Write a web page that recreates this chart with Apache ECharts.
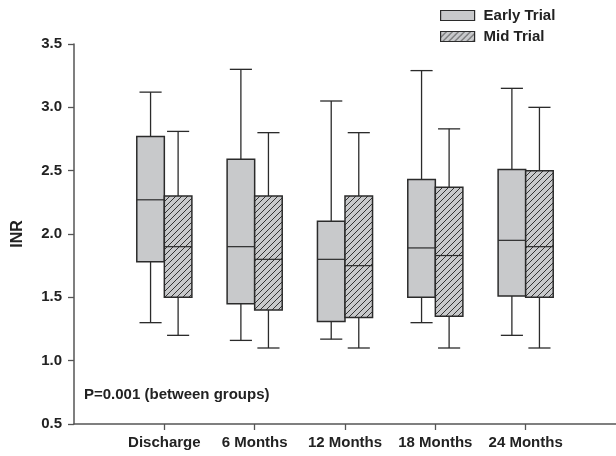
<!DOCTYPE html>
<html>
<head>
<meta charset="utf-8">
<script src="https://cdn.jsdelivr.net/npm/echarts@6/dist/echarts.min.js"></script>
<style>
html,body{margin:0;padding:0;background:#fff;}
#chart{width:616px;height:456px;}
</style>
</head>
<body>
<div id="chart"></div>
<script>
// ---- Data ----
const categories = ['Discharge', '6 Months', '12 Months', '18 Months', '24 Months'];
// [min, Q1, median, Q3, max]
const earlyTrial = [
  [1.30, 1.78, 2.27, 2.77, 3.12],
  [1.16, 1.45, 1.90, 2.59, 3.30],
  [1.17, 1.31, 1.80, 2.10, 3.05],
  [1.30, 1.50, 1.89, 2.43, 3.29],
  [1.20, 1.51, 1.95, 2.51, 3.15]
];
const midTrial = [
  [1.20, 1.50, 1.90, 2.30, 2.81],
  [1.10, 1.40, 1.80, 2.30, 2.80],
  [1.10, 1.34, 1.75, 2.30, 2.80],
  [1.10, 1.35, 1.83, 2.37, 2.83],
  [1.10, 1.50, 1.90, 2.50, 3.00]
];
const seriesNames = ['Early Trial', 'Mid Trial'];
const yMin = 0.5, yMax = 3.5, yStep = 0.5;
const annotation = 'P=0.001 (between groups)';

// ---- Styles ----
const GRAY = '#c8c9cb';
const DARK = '#2b2b2b';
const AXIS = '#555555';
const BOX_W = 0.305;   // box width in x units
const CAP_W = 0.245;   // whisker cap width in x units
const FONT = 'Liberation Sans, Arial, sans-serif';

function hatch() {
  const s = 6;
  const cv = document.createElement('canvas');
  cv.width = s; cv.height = s;
  const ctx = cv.getContext('2d');
  ctx.fillStyle = GRAY;
  ctx.fillRect(0, 0, s, s);
  ctx.strokeStyle = '#333';
  ctx.lineWidth = 1;
  ctx.beginPath();
  ctx.moveTo(-1, s + 1); ctx.lineTo(s + 1, -1);
  ctx.moveTo(-1, 1); ctx.lineTo(1, -1);
  ctx.moveTo(s - 1, s + 1); ctx.lineTo(s + 1, s - 1);
  ctx.stroke();
  return { image: cv, repeat: 'repeat' };
}
const HATCH = hatch();

function makeRender(side, fill) {
  return function (params, api) {
    const c = api.value(0);
    const mn = api.value(1), q1 = api.value(2), md = api.value(3), q3 = api.value(4), mx = api.value(5);
    const x0 = c + side * BOX_W, x1 = x0 + BOX_W, xm = (x0 + x1) / 2;
    const pTL = api.coord([x0, q3]);
    const pBR = api.coord([x1, q1]);
    const pMax = api.coord([xm, mx]);
    const pMin = api.coord([xm, mn]);
    const pMed = api.coord([x0, md]);
    const pMedR = api.coord([x1, md]);
    const capL = api.coord([xm - CAP_W / 2, mx])[0];
    const capR = api.coord([xm + CAP_W / 2, mx])[0];
    const ls = { stroke: DARK, lineWidth: 1.3 };
    return {
      type: 'group',
      children: [
        { type: 'line', shape: { x1: pMax[0], y1: pMax[1], x2: pMax[0], y2: pTL[1] }, style: ls },
        { type: 'line', shape: { x1: pMin[0], y1: pMin[1], x2: pMin[0], y2: pBR[1] }, style: ls },
        { type: 'line', shape: { x1: capL, y1: pMax[1], x2: capR, y2: pMax[1] }, style: ls },
        { type: 'line', shape: { x1: capL, y1: pMin[1], x2: capR, y2: pMin[1] }, style: ls },
        { type: 'rect', shape: { x: pTL[0], y: pTL[1], width: pBR[0] - pTL[0], height: pBR[1] - pTL[1] },
          style: { fill: fill, stroke: DARK, lineWidth: 1.5 } },
        { type: 'line', shape: { x1: pMed[0], y1: pMed[1], x2: pMedR[0], y2: pMed[1] }, style: { stroke: DARK, lineWidth: 1.2 } }
      ]
    };
  };
}

const earlyData = earlyTrial.map((d, i) => [i + 1].concat(d));
const midData = midTrial.map((d, i) => [i + 1].concat(d));

const chart = echarts.init(document.getElementById('chart'), null, { renderer: 'canvas' });
chart.setOption({
  animation: false,
  backgroundColor: '#fff',
  grid: { left: 74, right: 0, top: 44, bottom: 32, containLabel: false },
  legend: {
    orient: 'vertical',
    left: 440, top: 8, padding: 0,
    itemWidth: 34, itemHeight: 10, itemGap: 6,
    icon: 'rect',
    textStyle: { fontFamily: FONT, fontWeight: 'bold', fontSize: 15, color: '#222', padding: [0, 0, 0, 4] },
    data: [
      { name: seriesNames[0], itemStyle: { color: GRAY, borderColor: DARK, borderWidth: 1.2 } },
      { name: seriesNames[1], itemStyle: { color: HATCH, borderColor: DARK, borderWidth: 1.2 } }
    ]
  },
  xAxis: {
    type: 'value', min: 0, max: 6, interval: 1,
    splitLine: { show: false },
    axisLine: { lineStyle: { color: AXIS, width: 1.5 } },
    axisTick: { length: 6, lineStyle: { color: AXIS, width: 1.3 }, customValues: [1, 2, 3, 4, 5] },
    axisLabel: {
      customValues: [1, 2, 3, 4, 5],
      margin: 11,
      fontFamily: FONT, fontWeight: 'bold', fontSize: 15, color: '#222',
      formatter: v => categories[Math.round(v) - 1] || ''
    }
  },
  yAxis: {
    type: 'value', min: yMin, max: yMax, interval: yStep,
    name: 'INR', nameLocation: 'middle', nameGap: 48, nameRotate: 90,
    nameTextStyle: { fontFamily: FONT, fontWeight: 'bold', fontSize: 16, color: '#222' },
    splitLine: { show: false },
    axisLine: { show: true, lineStyle: { color: AXIS, width: 1.5 } },
    axisTick: { show: true, length: 6, lineStyle: { color: AXIS, width: 1.3 } },
    axisLabel: {
      margin: 12,
      fontFamily: FONT, fontWeight: 'bold', fontSize: 15, color: '#222',
      formatter: v => v.toFixed(1)
    }
  },
  graphic: [{
    type: 'text', left: 84, top: 387,
    style: { text: annotation, fontFamily: FONT, fontWeight: 'bold', fontSize: 15, fill: '#222' }
  }],
  series: [
    { name: seriesNames[0], type: 'custom', itemStyle: { color: GRAY },
      renderItem: makeRender(-1, GRAY), encode: { x: 0, y: [1, 2, 3, 4, 5] }, data: earlyData },
    { name: seriesNames[1], type: 'custom', itemStyle: { color: HATCH },
      renderItem: makeRender(0, HATCH), encode: { x: 0, y: [1, 2, 3, 4, 5] }, data: midData }
  ]
});
</script>
</body>
</html>
